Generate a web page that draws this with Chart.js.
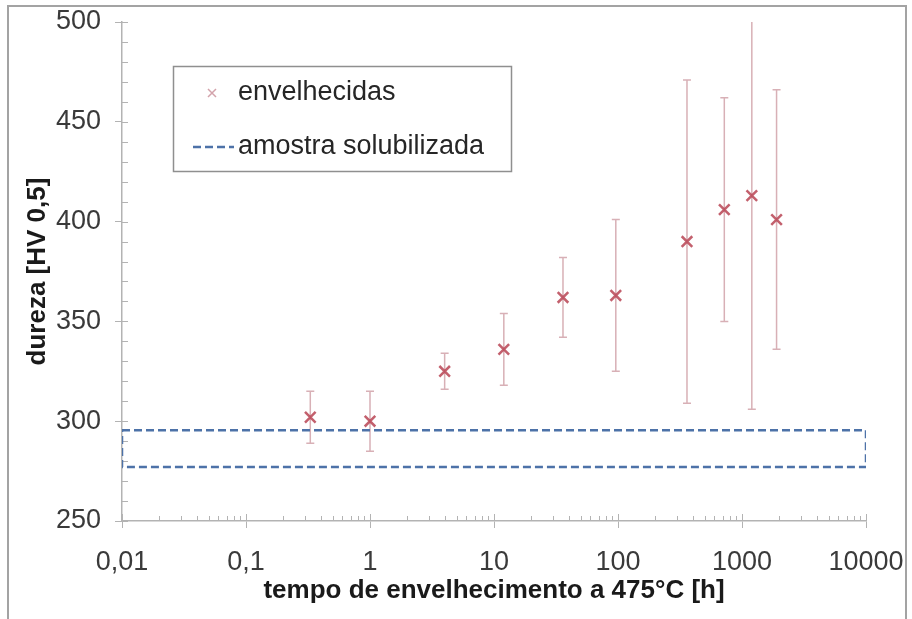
<!DOCTYPE html>
<html>
<head>
<meta charset="utf-8">
<script src="https://cdn.jsdelivr.net/npm/chart.js@4.4.1/dist/chart.umd.min.js"></script>
<style>
  body { margin: 0; background: #fff; }
  #wrap { position: relative; width: 912px; height: 619px; overflow: hidden; background: #fff; }
  #frame { position: absolute; left: 7px; top: 5px; width: 896px; height: 640px; border: 2px solid #a3a3a3; pointer-events: none; }
</style>
</head>
<body>
<div id="wrap">
  <canvas id="chart" width="912" height="619"></canvas>
  <div id="frame"></div>
</div>
<script>
// tempo de envelhecimento [h] e dureza média com desvio
const tempos = [0.33, 1, 4, 12, 36, 96, 360, 720, 1200, 1900];
const dureza = [302, 300, 325, 336, 362, 363, 390, 406, 413, 401];
const desvio = [13, 15, 9, 18, 20, 38, 81, 56, 107, 65];

// faixa da amostra solubilizada (retângulo tracejado)
const solubX = [0.01, 10000, 10000, 0.01, 0.01];
const solubY = [295.5, 295.5, 277, 277, 295.5];

const xTicks = [0.01, 0.1, 1, 10, 100, 1000, 10000];
const xTickLabels = ['0,01', '0,1', '1', '10', '100', '1000', '10000'];
const yTicks = [250, 300, 350, 400, 450, 500];

const fonte = "'Liberation Sans', Arial, sans-serif";
const corEixo = '#b3b3b3';
const corMarcador = 'rgba(184,68,84,0.85)';
const corBarra = '#d8b0b6';
const corSolub = '#4d72a8';

const ctx = document.getElementById('chart');

const semPadding = (s) => {
    s.paddingLeft = 0;
    s.paddingRight = 0;
    s.paddingTop = 0;
    s.paddingBottom = 0;
};

const barrasErro = {
    id: 'barrasErro',
    beforeDatasetsDraw(chart) {
        const {ctx, chartArea, scales: {x, y}} = chart;
        ctx.save();
        ctx.beginPath();
        ctx.rect(chartArea.left, chartArea.top, chartArea.width, chartArea.height);
        ctx.clip();
        ctx.strokeStyle = corBarra;
        ctx.lineWidth = 1.5;
        tempos.forEach((t, i) => {
            const px = x.getPixelForValue(t);
            const topo = y.getPixelForValue(dureza[i] + desvio[i]);
            const base = y.getPixelForValue(dureza[i] - desvio[i]);
            ctx.beginPath();
            ctx.moveTo(px, topo);
            ctx.lineTo(px, base);
            ctx.moveTo(px - 4, topo);
            ctx.lineTo(px + 4, topo);
            ctx.moveTo(px - 4, base);
            ctx.lineTo(px + 4, base);
            ctx.stroke();
        });
        ctx.restore();
    }
};

const ticksMenores = {
    id: 'ticksMenores',
    beforeDatasetsDraw(chart) {
        const {ctx, chartArea, scales: {x, y}} = chart;
        ctx.save();
        ctx.strokeStyle = corEixo;
        ctx.lineWidth = 1;
        ctx.beginPath();
        // eixo y: a cada 10 HV, para dentro
        for (let v = yTicks[0]; v <= yTicks[yTicks.length - 1]; v += 10) {
            const py = Math.round(y.getPixelForValue(v)) + 0.5;
            ctx.moveTo(chartArea.left, py);
            ctx.lineTo(chartArea.left + 6, py);
        }
        // eixo x: 1..9 por década, para dentro
        xTicks.forEach((d, j) => {
            const limite = j < xTicks.length - 1 ? 9 : 1;
            for (let k = 1; k <= limite; k++) {
                const px = Math.round(x.getPixelForValue(d * k)) + 0.5;
                const alt = k === 1 ? 7 : 5;
                ctx.moveTo(px, chartArea.bottom);
                ctx.lineTo(px, chartArea.bottom - alt);
            }
        });
        ctx.stroke();
        ctx.restore();
    }
};

const legenda = {
    id: 'legenda',
    afterDraw(chart) {
        const c = chart.ctx;
        const ds = chart.data.datasets;
        c.save();
        c.fillStyle = '#fff';
        c.fillRect(173, 66, 339, 106);
        c.strokeStyle = '#8f8f8f';
        c.lineWidth = 1.5;
        c.strokeRect(173.5, 66.5, 338, 105);

        // marcador "x"
        c.strokeStyle = 'rgba(200,140,150,0.8)';
        c.lineWidth = 1.5;
        c.beginPath();
        c.moveTo(208, 89); c.lineTo(216, 97);
        c.moveTo(216, 89); c.lineTo(208, 97);
        c.stroke();

        // linha tracejada
        c.strokeStyle = corSolub;
        c.lineWidth = 2.5;
        c.setLineDash([8, 4]);
        c.beginPath();
        c.moveTo(193, 147);
        c.lineTo(234, 147);
        c.stroke();
        c.setLineDash([]);

        c.fillStyle = '#262626';
        c.font = '27px ' + fonte;
        c.textBaseline = 'middle';
        c.textAlign = 'left';
        c.fillText(ds[0].label, 238, 93);
        c.fillText(ds[1].label, 238, 147);
        c.restore();
    }
};

new Chart(ctx, {
    type: 'scatter',
    data: {
        datasets: [{
            label: 'envelhecidas',
            data: tempos.map((t, i) => ({x: t, y: dureza[i]})),
            pointStyle: 'crossRot',
            pointRadius: 7.5,
            pointBorderWidth: 2.5,
            borderColor: corMarcador,
            backgroundColor: corMarcador,
            showLine: false
        }, {
            label: 'amostra solubilizada',
            data: solubX.map((v, i) => ({x: v, y: solubY[i]})),
            showLine: true,
            pointRadius: 0,
            borderColor: corSolub,
            borderWidth: 2.5,
            borderDash: [8, 4],
            fill: false
        }]
    },
    options: {
        responsive: false,
        animation: false,
        devicePixelRatio: 1,
        layout: {
            padding: {top: 22, right: 46, bottom: 0, left: 0}
        },
        plugins: {
            legend: {display: false},
            tooltip: {enabled: false}
        },
        scales: {
            x: {
                type: 'logarithmic',
                min: 0.01,
                max: 10000,
                afterBuildTicks: (s) => { s.ticks = xTicks.map(v => ({value: v})); },
                afterFit: (s) => { s.height = 98; semPadding(s); },
                ticks: {
                    callback: (v, i) => xTickLabels[i],
                    autoSkip: false,
                    maxRotation: 0,
                    padding: 18,
                    color: '#3a3a3a',
                    font: {family: fonte, size: 27}
                },
                grid: {drawOnChartArea: false, drawTicks: true, tickLength: 7, color: corEixo},
                border: {color: corEixo, width: 1.5},
                title: {
                    display: true,
                    text: 'tempo de envelhecimento a 475°C [h]',
                    color: '#1a1a1a',
                    font: {family: fonte, size: 26, weight: 'bold'},
                    padding: {top: 0, bottom: 13}
                }
            },
            y: {
                min: 250,
                max: 500,
                afterBuildTicks: (s) => { s.ticks = yTicks.map(v => ({value: v})); },
                afterFit: (s) => { s.width = 122; semPadding(s); },
                ticks: {
                    padding: 14,
                    color: '#3a3a3a',
                    font: {family: fonte, size: 27}
                },
                grid: {drawOnChartArea: false, drawTicks: true, tickLength: 7, color: corEixo},
                border: {color: corEixo, width: 1.5},
                title: {
                    display: true,
                    text: 'dureza [HV 0,5]',
                    color: '#1a1a1a',
                    font: {family: fonte, size: 26, weight: 'bold'},
                    padding: {top: 22, bottom: 0}
                }
            }
        }
    },
    plugins: [ticksMenores, barrasErro, legenda]
});
</script>
</body>
</html>
